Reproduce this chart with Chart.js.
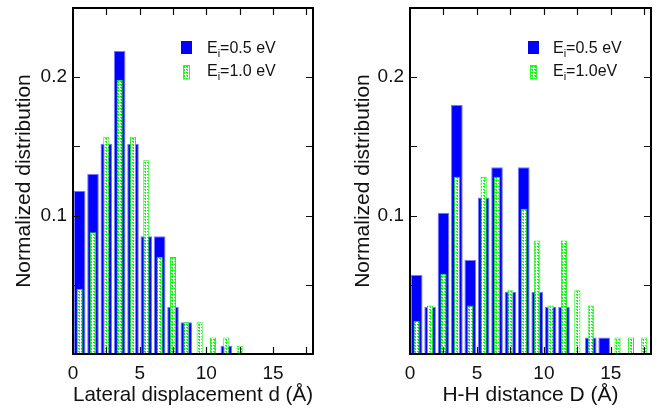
<!DOCTYPE html>
<html>
<head>
<meta charset="utf-8">
<script src="https://cdn.jsdelivr.net/npm/chart.js@4.4.0/dist/chart.umd.min.js"></script>
<style>
html, body { margin: 0; padding: 0; background: #fff; }
#wrap { position: relative; width: 659px; height: 412px; }
canvas { position: absolute; top: 0; }
#left { left: 0; }
#right { left: 330px; }
</style>
</head>
<body>
<div id="wrap">
  <canvas id="left" width="330" height="412"></canvas>
  <canvas id="right" width="329" height="412"></canvas>
</div>
<script>
// bin left edges (Å), bins are 1 Å wide
var bins = [0, 1, 2, 3, 4, 5, 6, 7, 8, 9, 10, 11, 12, 13, 14, 15, 16, 17];

// lateral displacement d
var lateralE05 = [0.118, 0.130, 0.152, 0.219, 0.152, 0.085, 0.085, 0.034, 0.023, null, null, 0.006, null, null, null, null, null, null];
var lateralE10 = [0.047, 0.088, 0.157, 0.198, 0.157, 0.140, 0.070, 0.070, 0.023, 0.023, 0.012, 0.012, 0.006, null, null, null, null, null];

// H-H distance D
var distE05 = [0.057, 0.034, 0.102, 0.180, 0.068, 0.113, 0.135, 0.045, 0.135, 0.045, 0.034, 0.034, null, 0.012, 0.012, null, null, null];
var distE10 = [0.024, 0.035, 0.058, 0.128, 0.035, 0.128, 0.128, 0.046, 0.105, 0.082, 0.035, 0.082, 0.046, 0.035, null, 0.012, 0.012, 0.012];

var xTicks = [0, 5, 10, 15];
var yTicks = [0.1, 0.2];
var legendLeft = ['=0.5 eV', '=1.0 eV'];
var legendRight = ['=0.5 eV', '=1.0eV'];

var FONT = '"Liberation Sans", Arial, Helvetica, sans-serif';

// dotted green fill for the E=1.0 eV bars, made on each chart's own context
function dotPattern(ctx) {
	var c = document.createElement('canvas');
	c.width = 3; c.height = 3;
	var g = c.getContext('2d');
	g.fillStyle = '#ffffff';
	g.fillRect(0, 0, 3, 3);
	g.fillStyle = '#00ff00';
	g.fillRect(1, 0, 1, 2);
	g.fillRect(0, 0, 1, 1);
	return ctx.createPattern(c, 'repeat');
}

function toPoints(values) {
	var pts = [];
	for (var i = 0; i < bins.length; i++) {
		if (values[i] != null) pts.push({x: bins[i] + 0.5, y: values[i]});
	}
	return pts;
}

// frame with inward ticks on all four sides
var framePlugin = {
	id: 'frame',
	afterDatasetsDraw: function(chart) {
		var ctx = chart.ctx, a = chart.chartArea;
		var xs = chart.scales.x, ys = chart.scales.y;
		ctx.save();
		ctx.strokeStyle = '#111';
		ctx.lineWidth = 1.2;
		ctx.beginPath();
		for (var v = 2.5; v < xs.max; v += 2.5) {
			var px = Math.round(xs.getPixelForValue(v)) + 0.5;
			ctx.moveTo(px, a.bottom); ctx.lineTo(px, a.bottom - 7);
			ctx.moveTo(px, a.top); ctx.lineTo(px, a.top + 7);
		}
		for (var w = 0.05; w < ys.max - 0.001; w += 0.05) {
			var py = Math.round(ys.getPixelForValue(w)) + 0.5;
			ctx.moveTo(a.left, py); ctx.lineTo(a.left + 7, py);
			ctx.moveTo(a.right, py); ctx.lineTo(a.right - 7, py);
		}
		ctx.stroke();
		ctx.lineWidth = 2;
		ctx.strokeStyle = '#000';
		ctx.strokeRect(a.left, a.top, a.right - a.left, a.bottom - a.top);
		ctx.restore();
	}
};

// legend with subscript "i"
var legendPlugin = {
	id: 'subLegend',
	afterDraw: function(chart, args, opts) {
		var ctx = chart.ctx;
		ctx.save();
		// E = 0.5 eV marker
		ctx.fillStyle = '#0000ff';
		ctx.fillRect(opts.x, 41, 11, 13);
		// E = 1.0 eV marker
		ctx.fillStyle = opts.fill;
		ctx.fillRect(opts.x + 2, 65, 6, 14);
		ctx.strokeStyle = '#22ff22';
		ctx.lineWidth = 1;
		ctx.strokeRect(opts.x + 2.5, 65.5, 6, 13.5);
		ctx.fillStyle = '#111';
		var rows = [52.5, 76];
		for (var i = 0; i < opts.labels.length; i++) {
			var tx = opts.textX;
			ctx.font = '16px ' + FONT;
			ctx.fillText('E', tx, rows[i]);
			tx += ctx.measureText('E').width;
			ctx.font = '11px ' + FONT;
			ctx.fillText('i', tx, rows[i] + 4);
			tx += ctx.measureText('i').width;
			ctx.font = '16px ' + FONT;
			ctx.fillText(opts.labels[i], tx, rows[i]);
		}
		ctx.restore();
	}
};

function makeChart(id, e05, e10, xTitle, yWidth, yTitlePad, rightPad, legendX, legendTextX, labels) {
	var canvas = document.getElementById(id);
	var greenFill = dotPattern(canvas.getContext('2d'));
	return new Chart(canvas, {
		type: 'bar',
		data: {
			datasets: [{
				label: 'E=1.0 eV',
				data: toPoints(e10),
				backgroundColor: greenFill,
				borderColor: '#11f011',
				borderWidth: 1,
				barPercentage: 0.46,
				categoryPercentage: 1,
				grouped: false,
				order: 0
			}, {
				label: 'E=0.5 eV',
				data: toPoints(e05),
				backgroundColor: '#0000ff',
				borderColor: '#7777ff',
				borderWidth: 1,
				barPercentage: 0.87,
				categoryPercentage: 1,
				grouped: false,
				order: 1
			}]
		},
		options: {
			responsive: false,
			animation: false,
			layout: {padding: {top: 8, right: rightPad, left: 0, bottom: 0}},
			plugins: {
				legend: {display: false},
				tooltip: {enabled: false},
				subLegend: {x: legendX, textX: legendTextX, labels: labels, fill: greenFill}
			},
			scales: {
				x: {
					type: 'linear',
					min: 0,
					max: 18,
					offset: false,
					grid: {display: false, drawTicks: false},
					border: {display: false},
					afterBuildTicks: function(s) { s.ticks = xTicks.map(function(v) { return {value: v}; }); },
					ticks: {
						padding: 8,
						color: '#111',
						font: {size: 19, family: FONT},
						maxRotation: 0,
						callback: function(v) { return String(v); }
					},
					title: {display: true, text: xTitle, color: '#111', font: {size: 21, family: FONT}, padding: {top: 0, bottom: 4}},
					afterFit: function(s) { s.height = 58; s.paddingLeft = 0; s.paddingRight = 0; }
				},
				y: {
					min: 0,
					max: 0.25,
					grid: {display: false, drawTicks: false},
					border: {display: false},
					afterBuildTicks: function(s) { s.ticks = yTicks.map(function(v) { return {value: v}; }); },
					ticks: {
						padding: 6,
						color: '#111',
						font: {size: 19, family: FONT},
						callback: function(v) { return v.toFixed(1); }
					},
					title: {display: true, text: 'Normalized distribution', color: '#111', font: {size: 21, family: FONT}, padding: {top: yTitlePad, bottom: 0}},
					afterFit: function(s) { s.width = yWidth; s.paddingTop = 0; s.paddingBottom = 0; }
				}
			}
		},
		plugins: [framePlugin, legendPlugin]
	});
}

makeChart('left', lateralE05, lateralE10, 'Lateral displacement d (Å)', 73, 12, 17, 181, 207, legendLeft);
makeChart('right', distE05, distE10, 'H-H distance D (Å)', 80, 21, 8, 198, 223, legendRight);
</script>
</body>
</html>
